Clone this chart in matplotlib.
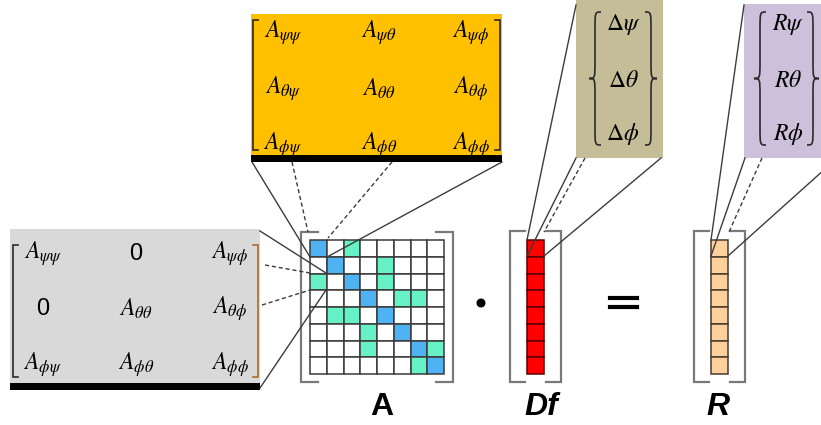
import matplotlib
matplotlib.use("Agg")
import matplotlib.pyplot as plt
from matplotlib.patches import Rectangle, PathPatch, Circle
from matplotlib.path import Path

plt.rcParams['mathtext.fontset'] = 'stix'

# sparsity pattern of the 8x8 matrix A (row, col)
blue_cells = [(0, 0), (1, 1), (2, 2), (3, 3), (4, 4), (5, 5), (6, 6), (7, 7)]
green_cells = [(0, 2), (1, 4), (2, 0), (2, 4), (3, 5), (3, 6), (4, 1), (4, 2),
               (5, 3), (6, 3), (6, 7), (7, 6)]
n_cells = 8

# zoomed 3x3 blocks
full_block = [[r'$A_{\psi\psi}$', r'$A_{\psi\theta}$', r'$A_{\psi\phi}$'],
              [r'$A_{\theta\psi}$', r'$A_{\theta\theta}$', r'$A_{\theta\phi}$'],
              [r'$A_{\phi\psi}$', r'$A_{\phi\theta}$', r'$A_{\phi\phi}$']]
sparse_block = [[r'$A_{\psi\psi}$', '0', r'$A_{\psi\phi}$'],
                ['0', r'$A_{\theta\theta}$', r'$A_{\theta\phi}$'],
                [r'$A_{\phi\psi}$', r'$A_{\phi\theta}$', r'$A_{\phi\phi}$']]
df_entries = [r'$\Delta\psi$', r'$\Delta\theta$', r'$\Delta\phi$']
r_entries = [r'$R\psi$', r'$R\theta$', r'$R\phi$']

LINE = '#3c3c3c'
BRK = '#7a7a7a'
FS = 17

fig = plt.figure(figsize=(8.21, 4.25), dpi=100)
ax = fig.add_axes([0, 0, 1, 1])
ax.set_xlim(0, 821)
ax.set_ylim(425, 0)
ax.axis('off')


def sq_bracket(x0, x1, y0, y1, tick, color=BRK, lw=1.6, left_color=None):
    lc = left_color or color
    ax.plot([x0 + tick, x0, x0, x0 + tick], [y0, y0, y1, y1], color=lc, lw=lw,
            solid_joinstyle='miter')
    ax.plot([x1 - tick, x1, x1, x1 - tick], [y0, y0, y1, y1], color=color, lw=lw,
            solid_joinstyle='miter')


def brace(xc, y0, y1, h, s, color='#2a2a2a', lw=1.2):
    # s=-1 -> '{' (tip to the left), s=+1 -> '}'
    ym = (y0 + y1) / 2
    k = 3 * h
    verts = [(xc - s * h, y0), (xc, y0), (xc, y0), (xc, y0 + k),
             (xc, ym - k),
             (xc, ym), (xc, ym), (xc + s * h, ym),
             (xc, ym), (xc, ym), (xc, ym + k),
             (xc, y1 - k),
             (xc, y1), (xc, y1), (xc - s * h, y1)]
    codes = [Path.MOVETO, Path.CURVE4, Path.CURVE4, Path.CURVE4,
             Path.LINETO,
             Path.CURVE4, Path.CURVE4, Path.CURVE4,
             Path.CURVE4, Path.CURVE4, Path.CURVE4,
             Path.LINETO,
             Path.CURVE4, Path.CURVE4, Path.CURVE4]
    ax.add_patch(PathPatch(Path(verts, codes), fill=False, edgecolor=color, lw=lw))


def link(p, q, dashed=False):
    ax.plot([p[0], q[0]], [p[1], q[1]], color=LINE, lw=1.0,
            linestyle=(0, (3, 2)) if dashed else '-', zorder=5)


# ---- main matrix A ----
gx, gy, cs = 310, 240, 134 / n_cells
for r in range(n_cells):
    for c in range(n_cells):
        fc = 'white'
        if (r, c) in blue_cells:
            fc = '#4fb2f2'
        elif (r, c) in green_cells:
            fc = '#66f2c6'
        ax.add_patch(Rectangle((gx + c * cs, gy + r * cs), cs, cs, facecolor=fc,
                               edgecolor='#3a3a3a', lw=1.1, zorder=2))
sq_bracket(301, 453, 232, 382, 17)

# ---- column vectors ----
def column(x0, color, edge):
    for r in range(n_cells):
        ax.add_patch(Rectangle((x0, gy + r * cs), 17, cs, facecolor=color,
                               edgecolor=edge, lw=1.1, zorder=2))

column(527, '#ff0000', '#5a0000')
sq_bracket(510, 561, 231, 382, 15)
column(711, '#fdd19d', '#4a3a2a')
sq_bracket(694, 745, 231, 382, 15)

# operators
ax.add_patch(Circle((481, 303), 3.8, color='black'))
ax.plot([610, 637], [297.5, 297.5], color='black', lw=3)
ax.plot([610, 637], [306.5, 306.5], color='black', lw=3)

# labels
ax.text(382, 407, 'A', fontsize=23, fontweight='bold', family='Liberation Sans',
        ha='center', va='center')
ax.text(541, 407, 'Df', fontsize=23, fontweight='bold', style='italic',
        family='Liberation Sans', ha='center', va='center')
ax.text(718, 407, 'R', fontsize=23, fontweight='bold', style='italic',
        family='Liberation Sans', ha='center', va='center')

# ---- orange full block ----
ax.add_patch(Rectangle((251, 14), 251, 144, facecolor='#ffc000', edgecolor='none'))
ax.add_patch(Rectangle((251, 155), 251, 7, facecolor='black', edgecolor='none'))
sq_bracket(253, 500, 20, 150, 5, color='#2a2a2a', lw=1.2)
for i, row in enumerate(full_block):
    for j, s in enumerate(row):
        ax.text([283, 379, 471][j], [33, 89, 145][i], s, fontsize=FS,
                ha='center', va='center')

# ---- gray sparse block ----
ax.add_patch(Rectangle((10, 229), 250, 156, facecolor='#d9d9d9', edgecolor='none'))
ax.add_patch(Rectangle((10, 383), 250, 7, facecolor='black', edgecolor='none'))
sq_bracket(13, 258, 245, 377, 5, color='#b06a2a', lw=1.2, left_color='#2a2a2a')
for i, row in enumerate(sparse_block):
    for j, s in enumerate(row):
        ax.text([43, 136, 230][j], [254, 309, 365][i], s, fontsize=FS,
                ha='center', va='center', family='Liberation Sans' if s == '0' else None)

# ---- tan Df block ----
ax.add_patch(Rectangle((576, 0), 87, 158, facecolor='#c4bd97', edgecolor='none'))
brace(595, 12, 145, 6, -1)
brace(651, 12, 145, 6, 1)
for i, s in enumerate(df_entries):
    ax.text(623, [24, 80, 134][i], s, fontsize=FS, ha='center', va='center')

# ---- purple R block ----
ax.add_patch(Rectangle((744, 4), 80, 154, facecolor='#ccc0da', edgecolor='none'))
brace(760, 12, 145, 6, -1)
brace(813, 12, 145, 6, 1)
for i, s in enumerate(r_entries):
    ax.text(788, [24, 80, 134][i], s, fontsize=FS, ha='center', va='center')

# ---- zoom connectors ----
link((252, 162), (310, 257))
link((292, 162), (308, 232), dashed=True)
link((392, 162), (328, 238), dashed=True)
link((502, 162), (327, 257))

link((260, 231), (326, 273))
link((265, 265), (310, 273), dashed=True)
link((262, 305), (310, 290), dashed=True)
link((260, 388), (326, 290))

link((576, 5), (527, 240))
link((576, 158), (527, 256))
link((585, 158), (544, 232), dashed=True)
link((661, 158), (544, 256))

link((744, 5), (711, 240))
link((745, 158), (711, 256))
link((762, 158), (729, 232), dashed=True)
link((835, 160), (728, 256))

fig.savefig('out.png', dpi=100)
